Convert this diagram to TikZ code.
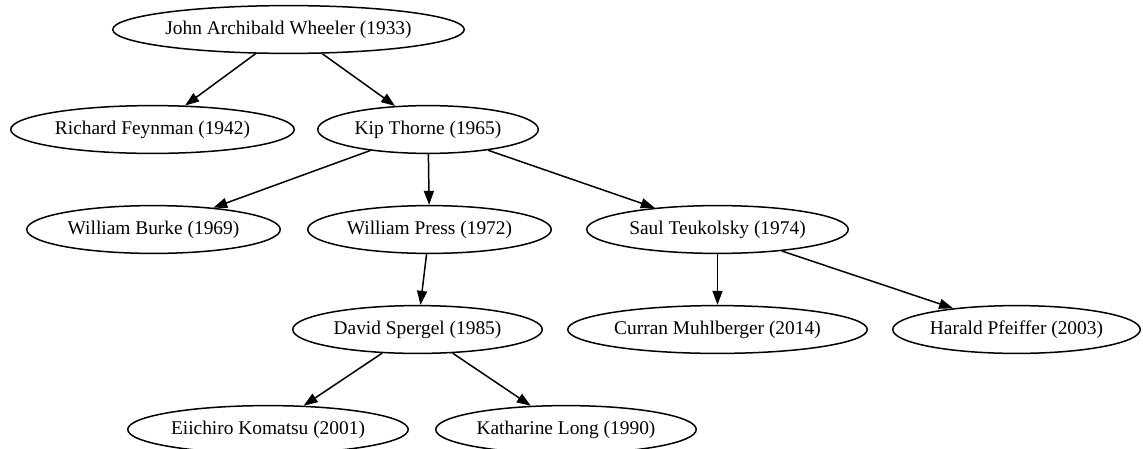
\documentclass[tikz,border=0pt]{standalone}
\usepackage{fontspec}
\setmainfont{Liberation Serif}
\usetikzlibrary{arrows.meta,shapes.geometric}

\tikzset{
  person/.style={ellipse, draw=black, line width=1.5pt, inner sep=0pt,
    minimum height=47.8pt, font=\fontsize{19.4}{23}\selectfont},
  link/.style={line width=1.5pt, -{Triangle[length=14pt,width=10pt]}}
}

\begin{document}
\begin{tikzpicture}[x=1pt,y=1pt]
  \useasboundingbox (0,0) rectangle (1143,-448);
  \clip (0,0) rectangle (1143,-448);

  % generation 1
  \node[person, minimum width=351.5pt] (wheeler) at (288.5,-29.5) {John Archibald Wheeler (1933)};
  % generation 2
  \node[person, minimum width=283.5pt] (feynman) at (152.5,-129.5) {Richard Feynman (1942)};
  \node[person, minimum width=220.5pt] (thorne) at (428,-129.5) {Kip Thorne (1965)};
  % generation 3
  \node[person, minimum width=253.5pt] (burke) at (153.5,-229.5) {William Burke (1969)};
  \node[person, minimum width=243.5pt] (press) at (429.5,-229.5) {William Press (1972)};
  \node[person, minimum width=261.5pt] (teukolsky) at (717.5,-229.5) {Saul Teukolsky (1974)};
  % generation 4
  \node[person, minimum width=249.5pt] (spergel) at (417.5,-329.5) {David Spergel (1985)};
  \node[person, minimum width=299.5pt] (muhlberger) at (717.5,-329.5) {Curran Muhlberger (2014)};
  \node[person, minimum width=247.5pt] (pfeiffer) at (1016.5,-329.5) {Harald Pfeiffer (2003)};
  % generation 5
  \node[person, minimum width=280.5pt] (komatsu) at (268,-429.5) {Eiichiro Komatsu (2001)};
  \node[person, minimum width=260.5pt] (long) at (566,-429.5) {Katharine Long (1990)};

  % advisor -> student
  \draw[link] (wheeler) -- (feynman);
  \draw[link] (wheeler) -- (thorne);
  \draw[link] (thorne) -- (burke);
  \draw[link] (thorne) -- (press);
  \draw[link] (thorne) -- (teukolsky);
  \draw[link] (press) -- (spergel);
  \draw[link] (teukolsky) -- (muhlberger);
  \draw[link] (teukolsky) -- (pfeiffer);
  \draw[link] (spergel) -- (komatsu);
  \draw[link] (spergel) -- (long);
\end{tikzpicture}
\end{document}
